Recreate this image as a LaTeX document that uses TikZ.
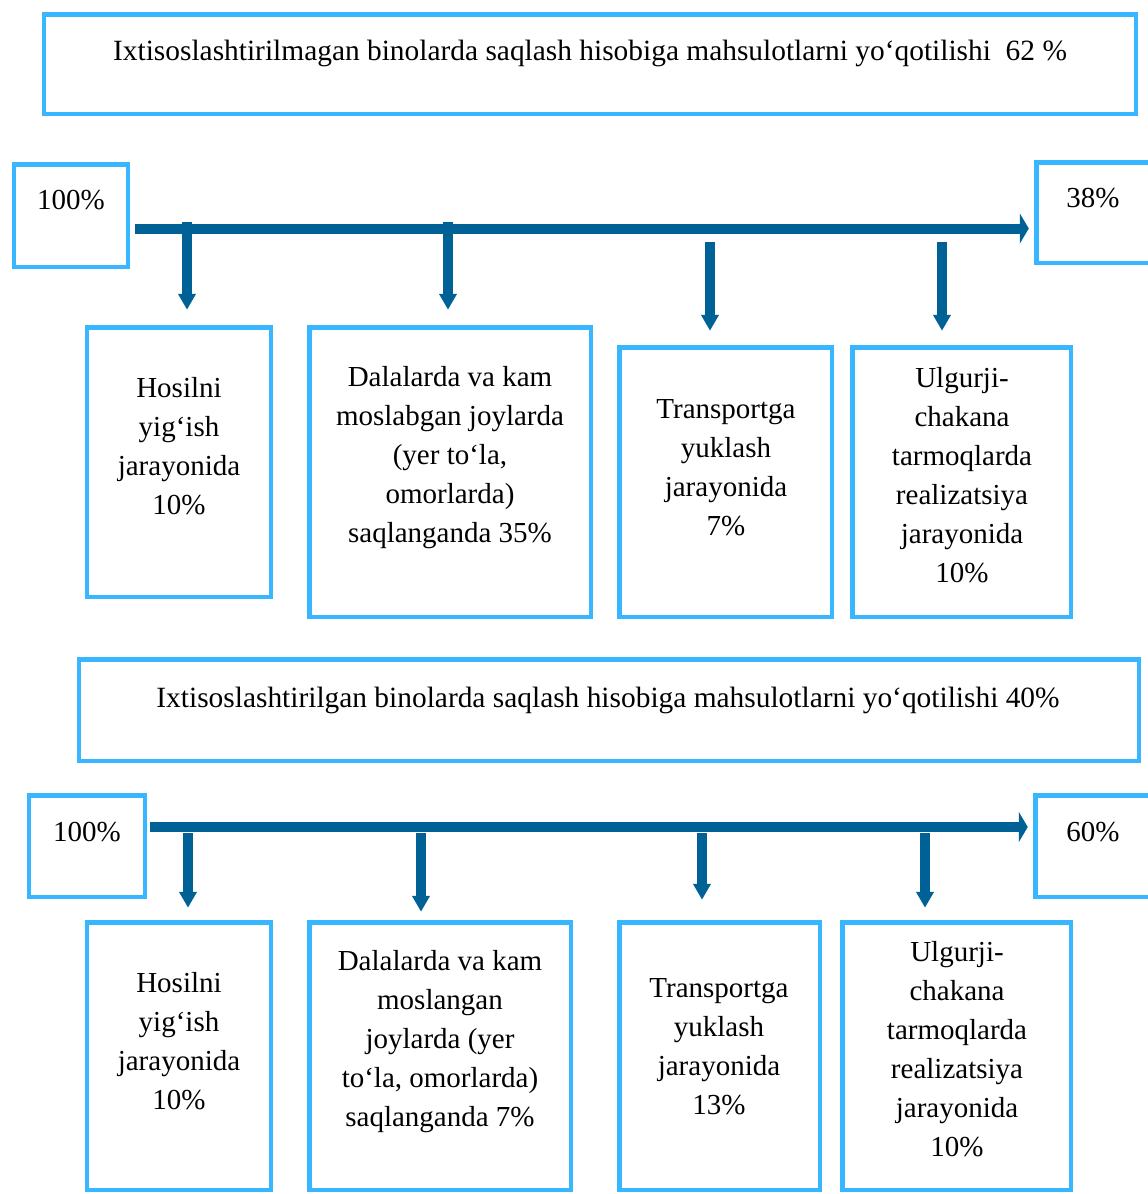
\documentclass[tikz,border=0pt]{standalone}
\usepackage{fontspec}
\setmainfont{Liberation Serif}
\usetikzlibrary{arrows.meta}
\definecolor{boxblue}{HTML}{38B6FF}
\definecolor{arrowblue}{HTML}{006196}
\begin{document}
\begin{tikzpicture}[x=1bp,y=-1bp,
  box/.style={draw=boxblue, line width=4.5bp, inner sep=0pt, rectangle},
  txt/.style={inner sep=0pt, align=center, font=\fontsize{29bp}{39bp}\selectfont},
  hdtxt/.style={inner sep=0pt, font=\fontsize{29.4bp}{39bp}\selectfont},
  harrow/.style={draw=arrowblue, line width=10bp, -{Triangle[length=9bp,width=30bp]}},
  varrow/.style={draw=arrowblue, line width=9.5bp, -{Triangle[length=16bp,width=17bp]}},
]
\clip (0,0) rectangle (1148,1194);
% ---------- upper part ----------
\node[box, minimum width=1091.5bp, minimum height=99.5bp] (hd1) at (590,64) {};
\node[hdtxt] (hd1t) at (590,53) {Ixtisoslashtirilmagan binolarda saqlash hisobiga mahsulotlarni yo‘qotilishi\ \ 62 \%};
\node[box, minimum width=113.5bp, minimum height=102.5bp] (pa) at (71,215.5) {};
\node[txt] (pat) at (71,200) {100\%};
\node[box, minimum width=131.5bp, minimum height=100.5bp] (pb) at (1102,212.5) {};
\node[txt] (pbt) at (1093,198) {38\%};
\node[box, minimum width=183.5bp, minimum height=269.5bp] (a1) at (179,462) {};
\node[box, minimum width=281.5bp, minimum height=289.5bp] (b1) at (450,472) {};
\node[box, minimum width=212.5bp, minimum height=269.5bp] (c1) at (725.5,482) {};
\node[box, minimum width=218.5bp, minimum height=269.5bp] (d1) at (961.5,482) {};
\node[txt] (a1t) at (179,446.5) {Hosilni\\yig‘ish\\jarayonida\\10\%};
\node[txt] (b1t) at (450,458) {Dalalarda va kam\\moslabgan joylarda\\(yer to‘la,\\omorlarda)\\saqlanganda 35\%};
\node[txt] (c1t) at (726,468) {Transportga\\yuklash\\jarayonida\\7\%};
\node[txt] (d1t) at (962,475.5) {Ulgurji-\\chakana\\tarmoqlarda\\realizatsiya\\jarayonida\\10\%};
\coordinate (h1) at (0,228.5);
\draw[harrow, shorten <=5.25bp, shorten >=5.25bp] (pa.east |- h1) -- (pb.west |- h1);
\coordinate (v1a) at (187,222);
\coordinate (v1b) at (448,222);
\coordinate (v1c) at (710,242);
\coordinate (v1d) at (942,242);
\draw[varrow, shorten >=15.25bp] (v1a) -- (v1a |- a1.north);
\draw[varrow, shorten >=15.25bp] (v1b) -- (v1b |- b1.north);
\draw[varrow, shorten >=14.25bp] (v1c) -- (v1c |- c1.north);
\draw[varrow, shorten >=14.25bp] (v1d) -- (v1d |- d1.north);
% ---------- lower part ----------
\node[box, minimum width=1059.5bp, minimum height=101.5bp] (hd2) at (609,710) {};
\node[hdtxt] (hd2t) at (608,700) {Ixtisoslashtirilgan binolarda saqlash hisobiga mahsulotlarni yo‘qotilishi 40\%};
\node[box, minimum width=115.5bp, minimum height=101.5bp] (pc) at (87,846) {};
\node[txt] (pct) at (87,832) {100\%};
\node[box, minimum width=132.5bp, minimum height=101.5bp] (pd) at (1101.5,846) {};
\node[txt] (pdt) at (1093,832) {60\%};
\node[box, minimum width=183.5bp, minimum height=267.5bp] (a2) at (179,1056) {};
\node[box, minimum width=261.5bp, minimum height=267.5bp] (b2) at (440,1056) {};
\node[box, minimum width=200.5bp, minimum height=267.5bp] (c2) at (719.5,1056) {};
\node[box, minimum width=228.5bp, minimum height=267.5bp] (d2) at (956.5,1056) {};
\node[txt] (a2t) at (179,1041.5) {Hosilni\\yig‘ish\\jarayonida\\10\%};
\node[txt] (b2t) at (440,1042) {Dalalarda va kam\\moslangan\\joylarda (yer\\to‘la, omorlarda)\\saqlanganda 7\%};
\node[txt] (c2t) at (719,1046.5) {Transportga\\yuklash\\jarayonida\\13\%};
\node[txt] (d2t) at (957,1049.5) {Ulgurji-\\chakana\\tarmoqlarda\\realizatsiya\\jarayonida\\10\%};
\coordinate (h2) at (0,827);
\draw[harrow, shorten <=3.25bp, shorten >=5.25bp] (pc.east |- h2) -- (pd.west |- h2);
\coordinate (v2a) at (188,833);
\coordinate (v2b) at (421,833);
\coordinate (v2c) at (702,833);
\coordinate (v2d) at (925,833);
\draw[varrow, shorten >=12.25bp] (v2a) -- (v2a |- a2.north);
\draw[varrow, shorten >=8.25bp] (v2b) -- (v2b |- b2.north);
\draw[varrow, shorten >=20.25bp] (v2c) -- (v2c |- c2.north);
\draw[varrow, shorten >=12.25bp] (v2d) -- (v2d |- d2.north);
\end{tikzpicture}
\end{document}
